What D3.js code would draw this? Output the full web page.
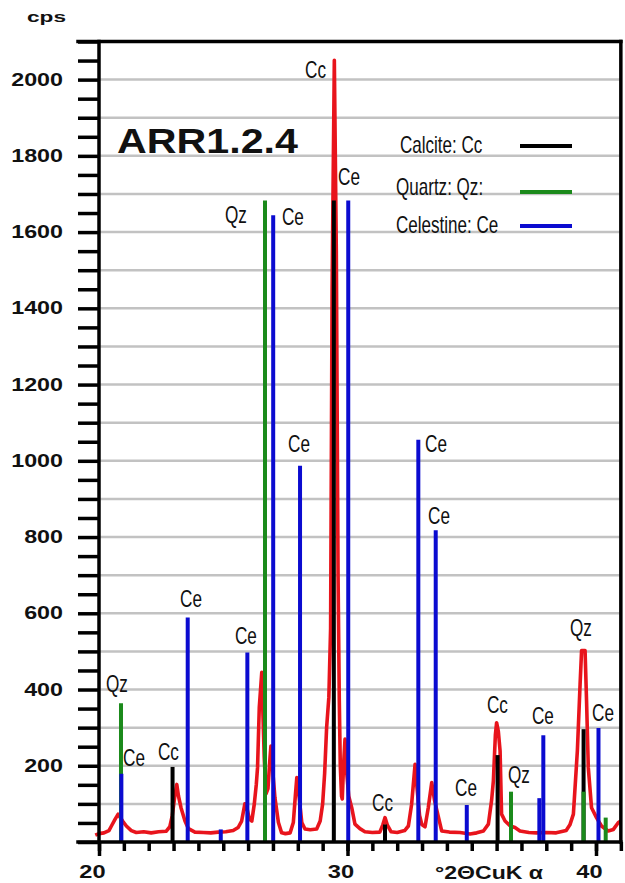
<!DOCTYPE html>
<html>
<head>
<meta charset="utf-8">
<script src="https://cdn.jsdelivr.net/npm/d3@7"></script>
<style>
  body { margin: 0; background: #fff; }
  svg { display: block; }
</style>
</head>
<body>
<svg id="chart"></svg>
<script>
const patternTheta = [19.85, 20.0, 20.2, 20.4, 20.5, 20.65, 20.77, 20.85, 20.95, 21.1,
  21.3, 21.5, 21.8, 22.1, 22.4, 22.7, 22.85, 22.95, 23.05, 23.13,
  23.2, 23.3, 23.46, 23.6, 23.86, 24.2, 24.5, 24.8, 25.1, 25.4,
  25.6, 25.74, 25.87, 25.95, 26.05, 26.15, 26.25, 26.33, 26.38, 26.45,
  26.55, 26.6, 26.65, 26.72, 26.8, 26.88, 26.92, 27.0, 27.08, 27.22,
  27.35, 27.5, 27.69, 27.82, 27.9, 27.96, 28.05, 28.16, 28.29, 28.5,
  28.76, 28.9, 29.0, 29.08, 29.16, 29.25, 29.32, 29.38, 29.47, 29.55,
  29.62, 29.67, 29.71, 29.76, 29.79, 29.84, 29.9, 29.97, 30.05, 30.17,
  30.3, 30.5, 30.7, 31.0, 31.3, 31.42, 31.51, 31.6, 31.75, 32.0,
  32.3, 32.45, 32.58, 32.72, 32.8, 32.9, 32.99, 33.12, 33.25, 33.39,
  33.5, 33.65, 33.79, 34.1, 34.53, 34.93, 35.2, 35.47, 35.67, 35.8,
  35.87, 35.95, 36.0, 36.07, 36.14, 36.2, 36.34, 36.55, 36.74, 36.94,
  37.3, 37.6, 38.0, 38.4, 38.8, 38.95, 39.09, 39.25, 39.36, 39.42,
  39.56, 39.62, 39.69, 39.82, 40.02, 40.22, 40.49, 40.7, 40.9, 41.0];
const patternCps = [18, 22, 24, 30, 42, 60, 73, 65, 55, 42,
  30, 25, 27, 24, 27, 28, 40, 70, 120, 151,
  120, 90, 55, 35, 26, 25, 24, 26, 27, 30,
  38, 55, 100, 90, 60, 55, 100, 151, 195, 353,
  445, 330, 221, 126, 140, 220, 252, 180, 116, 51,
  24, 22, 24, 51, 120, 169, 120, 51, 34, 32,
  34, 55, 100, 180, 300, 380, 560, 1450, 2051, 1550,
  700, 370, 200, 120, 113, 200, 270, 180, 120, 90,
  47, 35, 27, 25, 26, 45, 64, 45, 27, 25,
  30, 42, 99, 204, 140, 70, 46, 40, 90, 156,
  110, 68, 29, 26, 25, 21, 24, 29, 47, 110,
  160, 280, 313, 290, 239, 73, 55, 42, 38, 29,
  25, 24, 25, 24, 30, 45, 73, 239, 414, 502,
  502, 370, 195, 90, 64, 42, 29, 33, 51, 55];

// reference sticks for each phase
const calciteTheta = [22.96, 29.45, 31.51, 36.04, 39.5];
const calciteCps = [197, 1683, 46, 228, 296];
const quartzTheta = [20.885, 26.68, 36.58, 39.5, 40.39];
const quartzCps = [364, 1683, 132, 132, 64];
const celestineTheta = [20.9, 23.57, 24.9, 25.97, 27.01, 28.09, 30.03, 32.85, 33.55, 34.8, 37.72, 37.88, 40.1];
const celestineCps = [179, 589, 33, 497, 1644, 987, 1683, 1055, 818, 97, 115, 280, 299];

// peak annotations (left edge / baseline, in data units)
const peakText = ['Qz', 'Ce', 'Cc', 'Ce', 'Ce', 'Qz', 'Ce', 'Ce', 'Cc', 'Ce',
  'Ce', 'Ce', 'Cc', 'Ce', 'Cc', 'Qz', 'Ce', 'Qz', 'Ce'];
const peakTheta = [20.28, 20.97, 22.37, 23.26, 25.47, 25.07, 27.36, 27.61, 28.29, 29.62,
  33.12, 33.24, 30.99, 34.33, 35.61, 36.46, 37.42, 38.95, 39.84];
const peakCps = [394, 200, 215, 617, 520, 1623, 1618, 1022, 2004, 1723,
  1022, 835, 81, 121, 339, 155, 310, 541, 318];

const legendNames = ['Calcite: Cc', 'Quartz: Qz:', 'Celestine: Ce'];
const yLabelTicks = [200, 400, 600, 800, 1000, 1200, 1400, 1600, 1800, 2000];
const xLabelTicks = [20, 30, 40];

const W = 625, H = 883;
const sans = '"Liberation Sans", Arial, sans-serif';
const colors = { calcite: '#000000', quartz: '#1b8a1b', celestine: '#0b0bd0', pattern: '#e8141c' };

const svg = d3.select('#chart').attr('width', W).attr('height', H);

const x = d3.scaleLinear().domain([20, 41]).range([99, 620.85]);
const y = d3.scaleLinear().domain([0, 2100]).range([842, 41.5]);

// squeeze or widen a text to k times its natural width
function stretch(sel, k) {
  sel.each(function() {
    const w = this.getComputedTextLength();
    d3.select(this).attr('textLength', w * k).attr('lengthAdjust', 'spacingAndGlyphs');
  });
}

// gray grid every 100 cps
svg.append('g')
  .selectAll('line')
  .data(d3.range(100, 2001, 100))
  .join('line')
  .attr('x1', x(20)).attr('x2', x(41))
  .attr('y1', d => y(d)).attr('y2', d => y(d))
  .attr('stroke', '#c2c2c2')
  .attr('stroke-width', 2.5);

// measured pattern
const pattern = patternTheta.map((t, i) => [t, patternCps[i]]);
svg.append('path')
  .datum(pattern)
  .attr('d', d3.line().x(d => x(d[0])).y(d => y(d[1])))
  .attr('fill', 'none')
  .attr('stroke', colors.pattern)
  .attr('stroke-width', 3.6)
  .attr('stroke-linejoin', 'round');

// phase sticks
const phases = [
  { theta: calciteTheta, cps: calciteCps, color: colors.calcite },
  { theta: quartzTheta, cps: quartzCps, color: colors.quartz },
  { theta: celestineTheta, cps: celestineCps, color: colors.celestine }
];
phases.forEach(p => {
  svg.append('g')
    .selectAll('line')
    .data(p.theta.map((t, i) => [t, p.cps[i]]))
    .join('line')
    .attr('x1', d => x(d[0])).attr('x2', d => x(d[0]))
    .attr('y1', y(0)).attr('y2', d => y(d[1]))
    .attr('stroke', p.color)
    .attr('stroke-width', 4);
});

// y axis
const yAxis = d3.axisLeft(y)
  .tickValues(d3.range(0, 2101, 50))
  .tickSize(21)
  .tickPadding(15)
  .tickFormat(d => yLabelTicks.includes(d) ? d : '');
const gy = svg.append('g')
  .attr('transform', `translate(${x(20)},0)`)
  .call(yAxis);
gy.select('.domain').remove();
gy.selectAll('.tick line').attr('stroke', '#000').attr('stroke-width', 3.5);
gy.selectAll('.tick text')
  .attr('font-family', sans).attr('font-weight', 'bold').attr('font-size', 17.5)
  .attr('fill', '#111')
  .call(stretch, 1.33);

// x axis: minor ticks every degree, major ones labelled
const gxMinor = svg.append('g')
  .attr('transform', `translate(0,${y(0)})`)
  .call(d3.axisBottom(x).tickValues(d3.range(20, 42, 1)).tickSize(9).tickFormat(''));
gxMinor.select('.domain').remove();
gxMinor.selectAll('.tick line').attr('stroke', '#000').attr('stroke-width', 3.5);

const gxMajor = svg.append('g')
  .attr('transform', `translate(0,${y(0)})`)
  .call(d3.axisBottom(x).tickValues(xLabelTicks).tickSize(14).tickPadding(10));
gxMajor.select('.domain').remove();
gxMajor.selectAll('.tick line').attr('stroke', '#000').attr('stroke-width', 3.5);
gxMajor.selectAll('.tick text')
  .attr('font-family', sans).attr('font-weight', 'bold').attr('font-size', 17.5)
  .attr('fill', '#111').attr('dx', -7)
  .call(stretch, 1.35);

// frame
const frame = svg.append('g').attr('stroke', '#000').attr('stroke-width', 3.5).attr('stroke-linecap', 'square');
frame.append('line').attr('x1', 78).attr('x2', x(41)).attr('y1', y(2100)).attr('y2', y(2100));
frame.append('line').attr('x1', 78).attr('x2', x(41)).attr('y1', y(0)).attr('y2', y(0));
frame.append('line').attr('x1', x(20)).attr('x2', x(20)).attr('y1', y(2100)).attr('y2', y(0));
frame.append('line').attr('x1', x(41)).attr('x2', x(41)).attr('y1', y(2100)).attr('y2', y(0));

// axis titles
svg.append('text')
  .attr('x', 27).attr('y', 22)
  .attr('font-family', sans).attr('font-weight', 'bold').attr('font-size', 15)
  .attr('fill', '#111')
  .attr('textLength', 39).attr('lengthAdjust', 'spacingAndGlyphs')
  .text('cps');

svg.append('text')
  .attr('x', 435).attr('y', 879)
  .attr('font-family', sans).attr('font-weight', 'bold').attr('font-size', 17.5)
  .attr('fill', '#111')
  .attr('textLength', 108).attr('lengthAdjust', 'spacingAndGlyphs')
  .text('°2ΘCuK α');

// sample name
svg.append('text')
  .attr('x', 117).attr('y', 153)
  .attr('font-family', sans).attr('font-weight', 'bold').attr('font-size', 35)
  .attr('fill', '#111')
  .attr('textLength', 181).attr('lengthAdjust', 'spacingAndGlyphs')
  .text('ARR1.2.4');

// peak labels
svg.append('g')
  .selectAll('text')
  .data(peakText.map((t, i) => ({ t, theta: peakTheta[i], cps: peakCps[i] })))
  .join('text')
  .attr('x', d => x(d.theta))
  .attr('y', d => y(d.cps))
  .attr('font-family', sans).attr('font-size', 24.5)
  .attr('fill', '#111')
  .text(d => d.t)
  .call(stretch, 0.7);

// legend
const legendColors = [colors.calcite, colors.quartz, colors.celestine];
const legendTextX = [400, 396, 396];
const legendTextY = [153, 195, 233];
const legendLineY = [146, 192, 226];
const legend = svg.append('g');
legend.selectAll('text')
  .data(legendNames)
  .join('text')
  .attr('x', (d, i) => legendTextX[i])
  .attr('y', (d, i) => legendTextY[i])
  .attr('font-family', sans).attr('font-size', 24)
  .attr('fill', '#111')
  .text(d => d)
  .call(stretch, 0.71);
legend.selectAll('line')
  .data(legendColors)
  .join('line')
  .attr('x1', 520).attr('x2', 572)
  .attr('y1', (d, i) => legendLineY[i]).attr('y2', (d, i) => legendLineY[i])
  .attr('stroke', d => d)
  .attr('stroke-width', 4);
</script>
</body>
</html>
